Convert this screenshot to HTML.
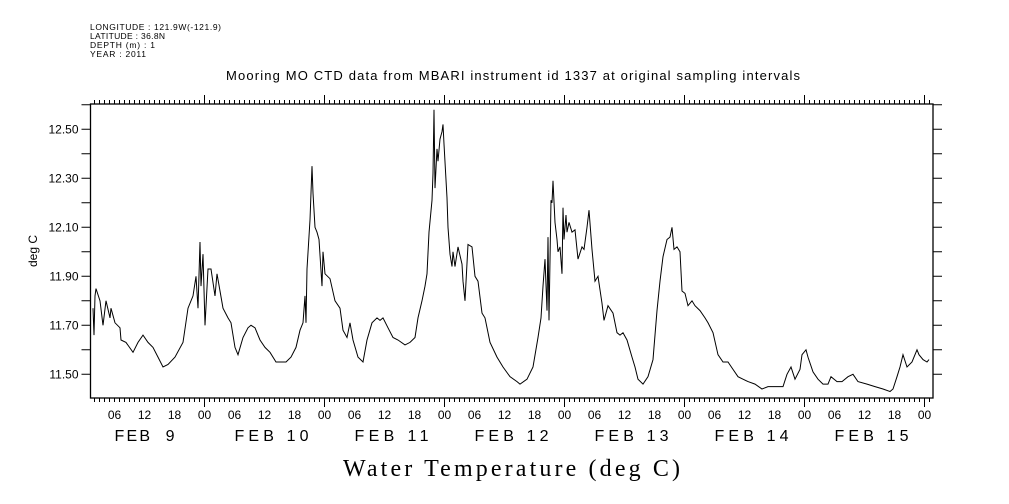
<!DOCTYPE html>
<html><head><meta charset="utf-8"><style>
body{margin:0;background:#fff;}
svg{display:block;font-family:"Liberation Sans",sans-serif;}
</style></head><body>
<svg id="chart" width="1009" height="504" viewBox="0 0 1009 504">
<g font-size="8.5" fill="#000">
<text x="90" y="30" textLength="131">LONGITUDE : 121.9W(-121.9)</text>
<text x="90" y="39" textLength="75">LATITUDE : 36.8N</text>
<text x="90" y="48" textLength="65">DEPTH (m) : 1</text>
<text x="90" y="57" textLength="56">YEAR : 2011</text>
</g>
<text x="226" y="80" textLength="574" font-size="13">Mooring MO CTD data from MBARI instrument id 1337 at original sampling intervals</text>
<text x="343" y="476" textLength="337" font-size="24" font-family="Liberation Serif, serif">Water Temperature (deg C)</text>
<text transform="translate(37,251) rotate(-90)" text-anchor="middle" font-size="12">deg C</text>
<g id="axes"></g>
<g id="series"></g>
</svg>
<script>
const hours=[1.7,1.9,2.1,2.3,3.1,3.7,4.3,5.1,5.3,6.1,7.1,7.3,8.3,9.7,10.7,11.7,12.7,13.7,14.7,15.7,16.7,18.1,19.7,20.7,21.7,22.3,22.7,23.1,23.3,23.7,24.1,24.7,25.3,26.1,26.5,27.1,27.7,28.7,29.3,30.1,30.7,31.7,32.7,33.3,34.1,35.1,36.1,37.1,38.3,39.3,40.3,41.3,42.3,43.1,43.7,44.1,44.3,44.5,45.1,45.5,45.7,46.1,46.5,46.9,47.5,47.7,48.1,49.1,50.1,51.1,51.7,52.5,53.1,53.7,54.7,55.7,56.5,57.5,58.5,59.1,59.7,60.7,61.7,62.7,64.1,65.1,66.1,66.7,67.5,68.1,68.5,68.9,69.5,69.7,69.9,70.1,70.5,70.7,71.1,71.5,71.7,71.9,72.5,72.7,73.1,73.5,73.7,74.1,74.7,75.5,75.7,76.1,76.7,77.5,78.1,78.7,79.5,80.1,81.1,82.5,83.7,85.1,86.5,87.1,88.5,89.7,90.7,91.3,91.7,92.1,92.5,92.7,92.9,93.3,93.5,93.7,94.1,94.5,94.7,95.1,95.5,95.7,95.9,96.3,96.5,96.9,97.5,98.1,98.7,99.5,99.9,100.5,100.9,101.5,102.1,102.7,103.5,103.9,104.7,105.7,106.5,107.1,107.7,108.5,109.5,110.1,110.7,111.7,112.7,113.7,114.5,115.1,115.7,116.5,117.1,117.5,117.9,118.5,119.1,119.5,120.1,120.7,121.5,122.1,123.1,124.1,124.7,125.7,126.7,127.7,128.7,129.7,130.7,131.7,132.7,134.1,135.5,136.7,138.5,139.7,140.5,141.3,142.1,143.1,143.5,144.3,144.7,145.7,146.7,147.7,148.7,149.3,150.5,151.5,152.7,153.7,154.7,156.5,158.1,159.7,161.1,161.7,162.5,163.1,163.7,164.5,165.5,166.5,166.9,167.7,168.5,168.9];
const temps=[11.77,11.66,11.82,11.85,11.80,11.70,11.80,11.73,11.77,11.71,11.69,11.64,11.63,11.59,11.63,11.66,11.63,11.61,11.57,11.53,11.54,11.57,11.63,11.77,11.82,11.90,11.77,12.04,11.86,11.99,11.70,11.93,11.93,11.82,11.91,11.84,11.77,11.73,11.71,11.61,11.58,11.65,11.69,11.70,11.69,11.64,11.61,11.59,11.55,11.55,11.55,11.57,11.61,11.68,11.71,11.82,11.71,11.93,12.13,12.35,12.24,12.10,12.08,12.05,11.86,12.00,11.91,11.89,11.80,11.77,11.68,11.65,11.71,11.64,11.57,11.55,11.64,11.71,11.73,11.72,11.73,11.69,11.65,11.64,11.62,11.63,11.65,11.73,11.80,11.86,11.91,12.08,12.21,12.32,12.58,12.26,12.42,12.37,12.46,12.49,12.52,12.44,12.22,12.10,11.99,11.94,12.00,11.94,12.02,11.95,11.88,11.80,12.03,12.02,11.90,11.88,11.75,11.73,11.63,11.57,11.53,11.49,11.47,11.46,11.48,11.53,11.65,11.73,11.86,11.97,11.76,12.06,11.72,12.21,12.20,12.29,12.12,12.05,12.00,12.02,11.91,12.18,12.05,12.15,12.08,12.12,12.08,12.09,11.97,12.02,12.01,12.10,12.17,12.01,11.88,11.90,11.79,11.72,11.78,11.75,11.67,11.66,11.67,11.64,11.57,11.53,11.48,11.46,11.49,11.56,11.76,11.88,11.98,12.05,12.06,12.10,12.01,12.02,12.00,11.84,11.83,11.78,11.80,11.78,11.76,11.73,11.71,11.67,11.58,11.55,11.55,11.52,11.49,11.48,11.47,11.46,11.44,11.45,11.45,11.45,11.50,11.53,11.48,11.52,11.58,11.60,11.57,11.51,11.48,11.46,11.46,11.49,11.47,11.47,11.49,11.50,11.47,11.46,11.45,11.44,11.43,11.44,11.49,11.53,11.58,11.53,11.55,11.60,11.58,11.56,11.55,11.56];
const yTickLabels=["11.50","11.70","11.90","12.10","12.30","12.50"];
const hourLabels=["06","12","18","00"];
const dayLabels=["FEB  9","FEB 10","FEB 11","FEB 12","FEB 13","FEB 14","FEB 15"];

const L=90.5,R=933,T=104,B=398;
const x=h=>84.5+h*5;
const y=v=>374.3-(v-11.5)*245;
const NS="http://www.w3.org/2000/svg";
const axes=document.getElementById('axes');
const series=document.getElementById('series');
function mk(tag,attrs,parent){const e=document.createElementNS(NS,tag);for(const k in attrs)e.setAttribute(k,attrs[k]);parent.appendChild(e);return e;}

const frame=mk('rect',{x:L,y:T,width:R-L,height:B-T,fill:'none',stroke:'#000','stroke-width':1.3},axes);



let d='';
for(let h=2;h<=169;h++){const xx=x(h);if(xx<L||xx>R)continue;const len=(h%24===0)?9:4;d+=`M${xx},${B}v${len}M${xx},${T}v${-len}`;}
for(let v=11.4;v<=12.61;v+=0.1){const yy=y(v);if(yy<T||yy>B)continue;d+=`M${L},${yy}h-9M${R},${yy}h9`;}
const ticks=mk('path',{d:d,stroke:'#000','stroke-width':1,fill:'none'},axes);



yTickLabels.forEach(s=>{const t=mk('text',{x:L-12,y:y(parseFloat(s))+4,'text-anchor':'end','font-size':12},axes);t.textContent=s;

});

for(let day=0;day<7;day++){
  hourLabels.forEach((s,i)=>{const h=day*24+(i+1)*6;const t=mk('text',{x:x(h),y:419,'text-anchor':'middle','font-size':12},axes);t.textContent=s;
  
  });
  const t=mk('text',{x:x(day*24+12)-30,y:441,'font-size':16,textLength:day===0?60:74,lengthAdjust:'spacing'},axes);t.textContent=dayLabels[day];
  t.style.whiteSpace='pre';
  
  
}

const pts=hours.map((h,i)=>x(h).toFixed(1)+','+y(temps[i]).toFixed(1)).join(' ');
const line=mk('polyline',{points:pts,fill:'none',stroke:'#000','stroke-width':1},series);


</script>
</body></html>
